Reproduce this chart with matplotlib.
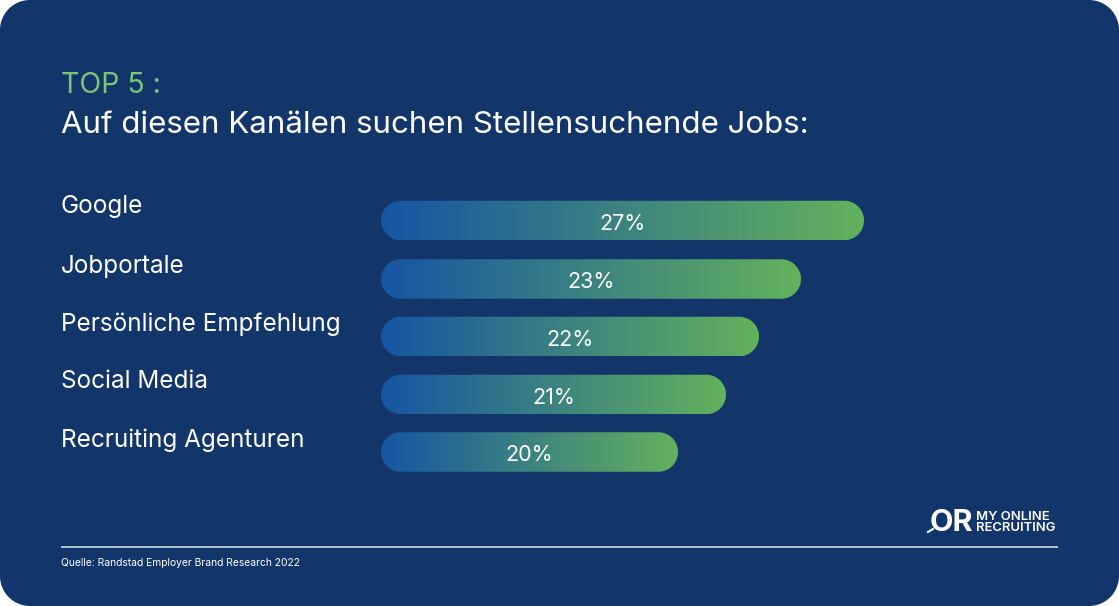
import matplotlib
matplotlib.use('Agg')
import matplotlib.pyplot as plt
from matplotlib.colors import LinearSegmentedColormap
from matplotlib.patches import Polygon
import numpy as np

plt.rcParams['font.family'] = ['Inter', 'DejaVu Sans']

categories = ['Google', 'Jobportale', 'Persönliche Empfehlung', 'Social Media', 'Recruiting Agenturen']
labels = ['27%', '23%', '22%', '21%', '20%']
# the bars in the picture are not to scale with their labels, lengths read in px
bar_lengths = [483, 420, 378, 345, 297]
bar_centers = [220.5, 279, 336.5, 394.5, 452]
label_y = [207, 266, 324, 382, 440]

BG = '#13366a'
cmap = LinearSegmentedColormap.from_list('bar', ['#1655a3', '#63b25c'])
grad = np.linspace(0, 1, 256).reshape(1, -1)


def rounded(x, y, w, h, r):
    # real circular corners, boxstyle round comes out too square
    pts = []
    for cx, cy, a in [(x + w - r, y + r, -90), (x + w - r, y + h - r, 0), (x + r, y + h - r, 90), (x + r, y + r, 180)]:
        t = np.radians(np.linspace(a, a + 90, 30))
        pts.append(np.column_stack([cx + r * np.cos(t), cy + r * np.sin(t)]))
    return np.vstack(pts)


fig = plt.figure(figsize=(11.19, 6.06), dpi=100, facecolor='white')
ax = fig.add_axes([0, 0, 1, 1])

# card
ax.add_patch(Polygon(rounded(0, 0, 1119, 606, 30), closed=True, fc=BG, ec='none', zorder=0))

ax.text(61, 85.5, 'TOP 5 :', color='#7cc576', fontsize=20.5, va='center')
ax.text(61, 125, 'Auf diesen Kanälen suchen Stellensuchende Jobs:', color='white', fontsize=22.5, va='center')

x0 = 381
h = 39.5
for cat, lab, w, yc, ly in zip(categories, labels, bar_lengths, bar_centers, label_y):
    ax.text(61, ly, cat, color='white', fontsize=17.5, va='center')
    clip = Polygon(rounded(x0, yc - h / 2, w, h, h / 2), closed=True, fc='none', ec='none')
    ax.add_patch(clip)
    im = ax.imshow(grad, cmap=cmap, extent=(x0, x0 + w, yc + h / 2, yc - h / 2),
                   aspect='auto', zorder=2)
    im.set_clip_path(clip)
    ax.text(x0 + w / 2, yc + 3, lab, color='white', fontsize=15.5, ha='center', va='center', zorder=3)

ax.set_xlim(0, 1119)
ax.set_ylim(606, 0)
ax.axis('off')

# footer
ax.plot([61, 1058], [546.5, 546.5], color='#dfe5ee', lw=1.1, solid_capstyle='butt')
ax.text(61, 563.5, 'Quelle: Randstad Employer Brand Research 2022', color='white', fontsize=7.4, va='center')

# logo
ax.text(930, 523, 'OR', color='white', fontsize=22, fontweight='bold', va='center', ha='left')
ax.plot([928, 933], [532, 529], color='white', lw=1.5)
ax.text(976, 522.5, 'MY ONLINE\nRECRUITING', color='white', fontsize=9.4, fontweight='semibold',
        va='center', linespacing=0.86)

fig.savefig('out.png', dpi=100, facecolor='white')
